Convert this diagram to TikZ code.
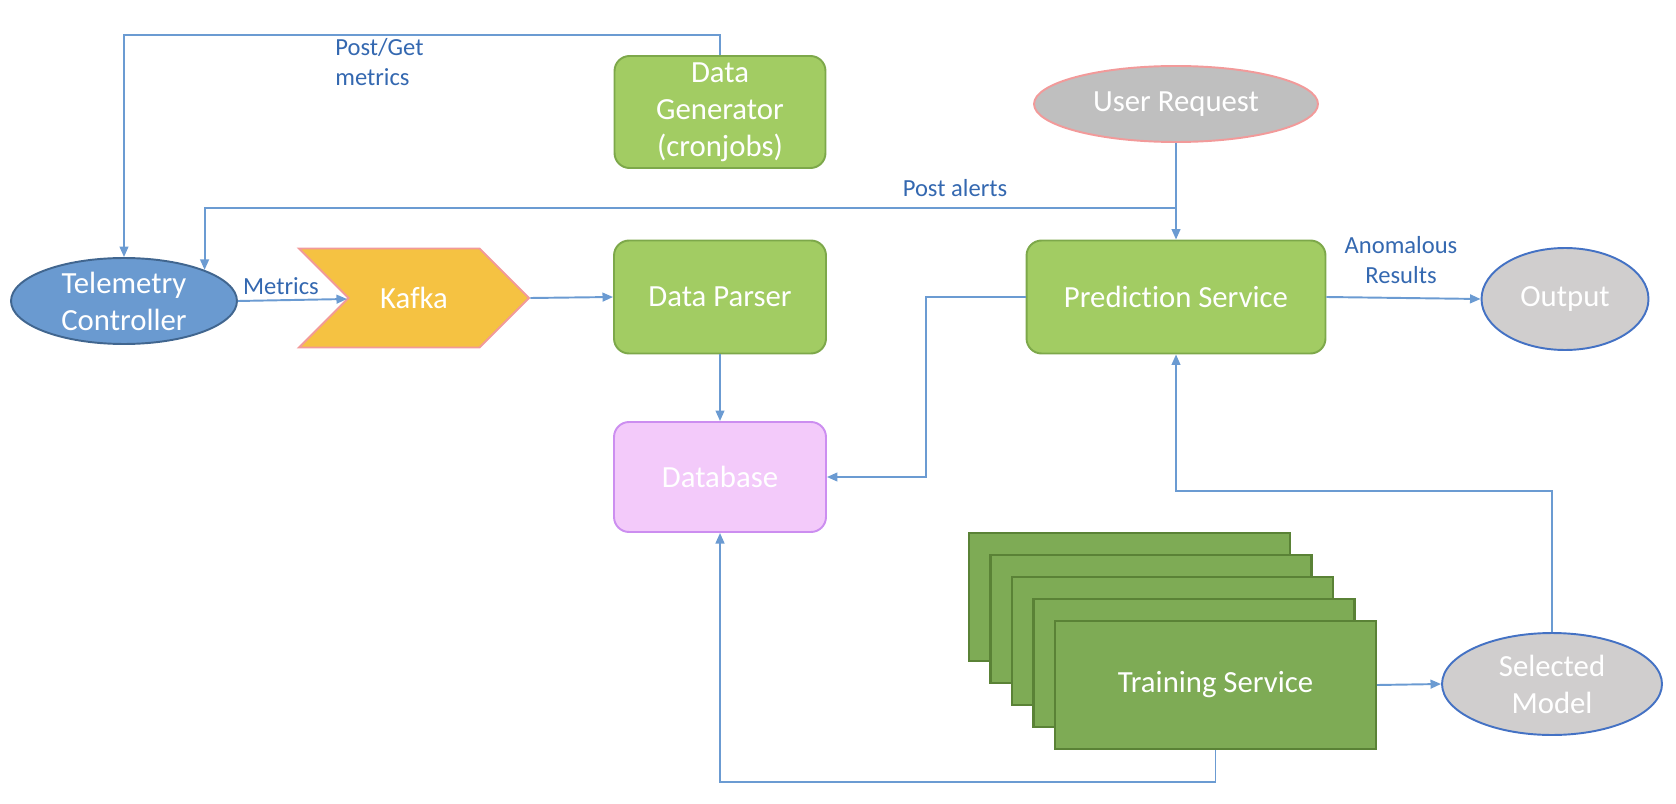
\documentclass[tikz,border=0pt]{standalone}
\usepackage{fontspec}
\setmainfont[RawFeature=-liga]{Carlito}
\usetikzlibrary{shapes.geometric,shapes.symbols,arrows.meta}

\definecolor{boxgreen}{HTML}{A2CC63}
\definecolor{boxgreenline}{HTML}{7DA84A}
\definecolor{traingreen}{HTML}{7EAB55}
\definecolor{traingreenline}{HTML}{5A8236}
\definecolor{teleblue}{HTML}{6A9AD0}
\definecolor{teleline}{HTML}{41668F}
\definecolor{kafkafill}{HTML}{F5C242}
\definecolor{kafkaline}{HTML}{F29A9A}
\definecolor{greyfill}{HTML}{BFBFBF}
\definecolor{outfill}{HTML}{D0CECE}
\definecolor{outline}{HTML}{4472C4}
\definecolor{dbfill}{HTML}{F3CAFA}
\definecolor{dbline}{HTML}{CC8EF0}
\definecolor{linkblue}{HTML}{6B9BD2}
\definecolor{labelblue}{HTML}{3468B0}

\begin{document}
\begin{tikzpicture}[x=0.02cm,y=-0.02cm]

% Styles
\tikzset{
    block/.style={draw=boxgreenline,fill=boxgreen,line width=1.1pt,rounded corners=0.3cm,
        text=white,align=center,inner sep=0pt,font=\fontsize{17.5}{21}\selectfont},
    trainbox/.style={draw=traingreenline,fill=traingreen,line width=1.3pt,
        minimum width=6.42cm,minimum height=2.56cm,text=white,inner sep=0pt,
        font=\fontsize{17.5}{21}\selectfont},
    oval/.style={ellipse,line width=1.1pt,text=white,align=center,inner sep=0pt,
        font=\fontsize{17.5}{21}\selectfont},
    link/.style={draw=linkblue,line width=1.1pt,-{Triangle[length=6pt,width=5pt]}},
    lbl/.style={text=labelblue,align=left,inner sep=0pt,font=\fontsize{14}{17}\selectfont}
}

\useasboundingbox (0,0) rectangle (1676,804);

% Blocks
\node[block,minimum width=4.22cm,minimum height=2.24cm] (gen) at (720,112) {Data\\Generator\\(cronjobs)};
\node[block,minimum width=4.24cm,minimum height=2.26cm] (parser) at (720,297) {Data Parser};
\node[block,draw=dbline,fill=dbfill,minimum width=4.24cm,minimum height=2.2cm] (db) at (720,477) {Database};
\node[block,minimum width=5.98cm,minimum height=2.26cm] (pred) at (1176,297) {Prediction Service};

\node[oval,draw=kafkaline,fill=greyfill,minimum width=5.68cm,minimum height=1.52cm] (user) at (1176,104) {User Request};
\node[oval,draw=teleline,fill=teleblue,minimum width=4.52cm,minimum height=1.72cm] (tele) at (124,301) {Telemetry\\Controller};
\node[oval,draw=outline,fill=outfill,minimum width=3.34cm,minimum height=2.04cm] (out) at (1565,299) {Output};
\node[oval,draw=outline,fill=outfill,minimum width=4.4cm,minimum height=2.04cm] (sel) at (1552,684) {Selected\\Model};

\node[signal,signal from=west,signal to=east,draw=kafkaline,fill=kafkafill,line width=1.1pt,
    minimum width=4.6cm,minimum height=1.98cm,inner sep=0pt,text=white,
    font=\fontsize{17.5}{21}\selectfont] (kafka) at (414,298) {Kafka};
\coordinate (kafkain) at (347,299);

% Training stack
\foreach \i in {4,...,1}
    \node[trainbox] (train\i) at (1215.5-21.5*\i,685-22*\i) {};
\node[trainbox] (train) at (1215.5,685) {Training Service};

% Connectors
\draw[link] (gen.north) -- ++(0,-20) -| (tele.north);
\draw[link] (user.south) -- (pred.north);
\draw[link] (pred.north) ++(0,-32) -| (tele.north east);
\draw[link] (tele.east) -- (kafkain);
\draw[link] (kafka.east) -- (parser.west);
\draw[link] (parser.south) -- (db.north);
\draw[link] (pred.west) -- ++(-100,0) |- (db.east);
\draw[link] (pred.east) -- (out.west);
\draw[link] (train.east) -- (sel.west);
\draw[link] (sel.north) -- ++(0,-141) -| (pred.south);
\draw[link] (train.south) -- ++(0,32) -| (db.south);

% Labels
\node[lbl,anchor=west] (getlbl) at (335,62) {Post/Get\\metrics};
\node[lbl] (alertlbl) at (955,188) {Post alerts};
\node[lbl] (metriclbl) at (281,286) {Metrics};
\node[lbl,align=center] (anomlbl) at (1401,260) {Anomalous\\Results};

\end{tikzpicture}
\end{document}
